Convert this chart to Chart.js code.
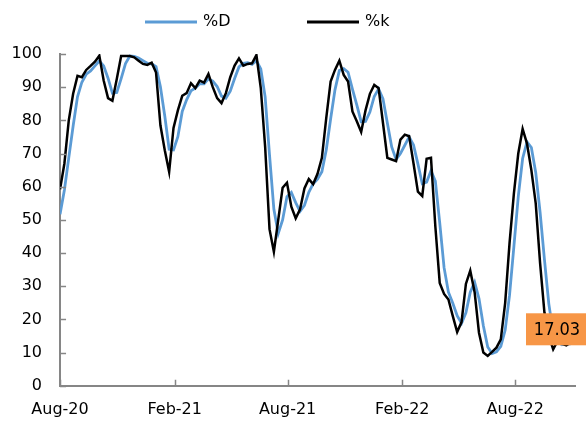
<!DOCTYPE html>
<html>
<head>
<meta charset="utf-8">
<script src="https://cdn.jsdelivr.net/npm/chart.js@4/dist/chart.umd.min.js"></script>
<style>
  html, body { margin: 0; padding: 0; background: #fff; }
  #stoch { display: block; }
</style>
</head>
<body>
<canvas id="stoch" width="586" height="421"></canvas>
<script>
// weekly stochastic oscillator, first week starts Aug 1 2020
var startDate = '2020-08-01';
var kLabel = '%k';
var dLabel = '%D';

var kValues = [59.2, 67, 80, 88, 93.4, 93, 95.2, 96.4, 97.7, 99.5,
  92, 86.7, 85.9, 92.5, 99.4, 99.4, 99.4, 99, 98, 97,
  96.7, 97.4, 94.4, 78.5, 71, 64.5, 77.7, 83, 87.4, 88.2,
  91.2, 89.7, 92, 91.4, 94, 90, 86.7, 85.2, 88.2, 93,
  96.5, 98.7, 96.5, 97, 97.2, 99.7, 89.7, 72, 47.2, 40.4,
  50, 59.7, 61.2, 54, 50.5, 53.2, 59.5, 62.3, 60.8, 63.9,
  68.7, 80.7, 91.7, 95.2, 98, 93.7, 91.7, 82.7, 79.7, 76.5,
  83, 88, 90.7, 89.7, 79.2, 68.7, 68.2, 67.7, 74.2, 75.7,
  75.2, 67, 58.5, 57.2, 68.4, 68.7, 48, 31, 27.7, 26,
  21, 16.2, 19.2, 30.7, 34.7, 28.2, 16, 10, 9, 10.2,
  11.5, 14, 25, 43, 58, 70, 77.4, 73, 65, 55,
  37, 22, 15, 11, 13.5, 12.7, 12.2, 13];

var dValues = [51.7, 59, 68.7, 78.3, 87.1, 91.5, 93.9, 94.9, 96.4, 97.9,
  96.4, 92.7, 88.2, 88.4, 92.6, 97.1, 99.4, 99.3, 98.8, 98,
  97.2, 97, 96.2, 90.1, 81.3, 71.3, 71.1, 75.1, 82.7, 86.2,
  88.9, 89.7, 91, 91, 92.5, 91.8, 90.2, 87.3, 86.7, 88.8,
  92.6, 96.1, 97.2, 97.4, 96.9, 98, 95.5, 87.1, 69.6, 53.2,
  45.9, 50, 57, 58.3, 55.2, 52.6, 54.4, 58.3, 60.9, 62.3,
  64.5, 71.1, 80.4, 89.2, 95, 95.6, 94.5, 89.4, 84.7, 79.6,
  79.7, 82.5, 87.2, 89.5, 86.5, 79.2, 72, 68.2, 70, 72.5,
  75, 72.6, 66.9, 60.9, 61.4, 64.8, 61.7, 49.2, 35.6, 28.2,
  24.9, 21.1, 18.8, 22, 28.2, 31.2, 26.3, 18.1, 11.7, 9.7,
  10.2, 11.9, 16.8, 27.3, 42, 57, 68.5, 73.5, 71.8, 64.3,
  52.3, 38, 24.7, 16, 13.2, 12.4, 12.8, 12.6];

var tickLabels = ['Aug-20', 'Feb-21', 'Aug-21', 'Feb-22', 'Aug-22'];
var tickDates = ['2020-08-01', '2021-02-01', '2021-08-01', '2022-02-01', '2022-08-01'];
var axisEndDate = '2022-11-05';
var calloutValue = 17.03;

var FONT = 'DejaVu Sans';
var axisGrey = '#868686';
var blue = '#5b9bd5';

function dayOf(s) {
  return Math.round((Date.parse(s) - Date.parse(startDate)) / 86400000);
}

var tickDays = tickDates.map(dayOf);

function toPoints(vals) {
  return vals.map(function (v, i) { return { x: i * 7, y: v }; });
}

// ticks point into the plot, the legend and the orange value box
var extras = {
  id: 'extras',
  afterDraw: function (chart) {
    var ctx = chart.ctx;
    var xs = chart.scales.x, ys = chart.scales.y;
    var area = chart.chartArea;
    ctx.save();
    ctx.strokeStyle = axisGrey;
    ctx.lineWidth = 1.5;
    ctx.beginPath();
    ys.ticks.forEach(function (t) {
      var y = Math.round(ys.getPixelForValue(t.value)) + 0.5;
      ctx.moveTo(area.left, y);
      ctx.lineTo(area.left + 6, y);
    });
    tickDays.forEach(function (d) {
      var x = Math.round(xs.getPixelForValue(d)) + 0.5;
      ctx.moveTo(x, area.bottom);
      ctx.lineTo(x, area.bottom - 6);
    });
    ctx.stroke();

    // legend
    var items = [
      { text: dLabel, color: blue, x: 145 },
      { text: kLabel, color: '#000', x: 307 }
    ];
    ctx.font = '16px "' + FONT + '"';
    ctx.textBaseline = 'middle';
    ctx.textAlign = 'left';
    items.forEach(function (it) {
      ctx.strokeStyle = it.color;
      ctx.lineWidth = 3;
      ctx.beginPath();
      ctx.moveTo(it.x, 22);
      ctx.lineTo(it.x + 52, 22);
      ctx.stroke();
      ctx.fillStyle = '#000';
      ctx.fillText(it.text, it.x + 58, 22);
    });

    // value callout
    var cy = ys.getPixelForValue(calloutValue);
    ctx.fillStyle = '#f79646';
    ctx.fillRect(526, cy - 16, 62, 32);
    ctx.fillStyle = '#000';
    ctx.font = '18px "DejaVu Sans Condensed", "Liberation Sans Narrow", "DejaVu Sans"';
    ctx.textAlign = 'center';
    ctx.fillText(calloutValue.toFixed(2), 557, cy + 1);
    ctx.restore();
  }
};

var ctx = document.getElementById('stoch').getContext('2d');
var myChart = new Chart(ctx, {
  type: 'line',
  data: {
    datasets: [
      {
        label: kLabel,
        data: toPoints(kValues),
        borderColor: '#000000',
        backgroundColor: '#000000',
        borderWidth: 2.5,
        pointRadius: 0,
        tension: 0,
        order: 0
      },
      {
        label: dLabel,
        data: toPoints(dValues),
        borderColor: blue,
        backgroundColor: blue,
        borderWidth: 2.8,
        pointRadius: 0,
        tension: 0,
        order: 1
      }
    ]
  },
  options: {
    responsive: false,
    animation: false,
    // chart.js doubles tick padding in the axis size, so pull the edges back
    layout: { padding: { left: -6.5, right: 11, top: 54, bottom: -12 } },
    plugins: {
      legend: { display: false },
      tooltip: { enabled: false }
    },
    scales: {
      x: {
        type: 'linear',
        min: 0,
        max: dayOf(axisEndDate),
        afterBuildTicks: function (scale) {
          scale.ticks = tickDays.map(function (d) { return { value: d }; });
        },
        ticks: {
          autoSkip: false,
          maxRotation: 0,
          padding: 14,
          color: '#000',
          font: { family: FONT, size: 16 },
          callback: function (v) {
            var i = tickDays.indexOf(v);
            return i >= 0 ? tickLabels[i] : '';
          }
        },
        grid: { drawOnChartArea: false, drawTicks: false },
        border: { color: axisGrey, width: 2 }
      },
      y: {
        min: 0,
        max: 100,
        ticks: {
          stepSize: 10,
          padding: 18,
          color: '#000',
          font: { family: FONT, size: 16 }
        },
        grid: { drawOnChartArea: false, drawTicks: false },
        border: { color: axisGrey, width: 2 }
      }
    }
  },
  plugins: [extras]
});
</script>
</body>
</html>
